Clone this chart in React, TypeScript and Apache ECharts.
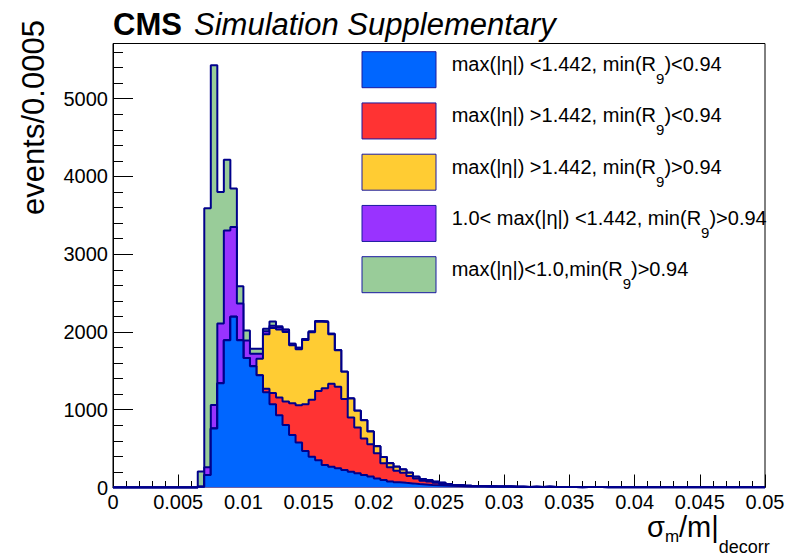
import React, { useEffect, useRef } from 'react';
import * as echarts from 'echarts';

// Histogram binning: 100 bins of width 0.0005 over [0, 0.05]
const N_BINS = 100;
const BIN_WIDTH = 0.0005;
const X_MAX = 0.05;
const Y_MAX = 5710;

const X_TICK_LABELS = ['0', '0.005', '0.01', '0.015', '0.02', '0.025', '0.03', '0.035', '0.04', '0.045', '0.05'];
const Y_TICK_LABELS = ['0', '1000', '2000', '3000', '4000', '5000'];

// Events per bin for each category; the first number is the index of the first filled bin.
const BARREL_LOW_R9_START = 13;
const barrelLowR9 = [
  10, 160, 760, 1340, 1895, 2195, 1895, 1665, 1560, 1445,
  1225, 1070, 930, 805, 675, 580, 470, 395, 350, 290,
  268, 246, 225, 203, 182, 160, 140, 117, 96, 78,
  68, 60, 53, 45, 40, 33, 30, 27, 21, 18,
  16, 14, 13, 12, 11, 10, 9, 10, 8, 8,
  7, 8, 6, 9, 6, 5, 5, 6, 4, 8,
  5, 6, 4, 5, 4, 3, 5, 4, 3, 4,
  3, 5, 3, 3, 2, 4, 3, 3, 2, 3,
  2, 2, 3, 2, 2, 2, 2,
];

const ENDCAP_LOW_R9_START = 23;
const endcapLowR9 = [
  45, 145, 228, 300, 408, 478, 602, 735, 890, 985,
  1065, 1050, 912, 697, 590, 470, 415, 322, 215, 182,
  148, 130, 95, 72, 48, 43, 32, 18, 12, 8,
  6, 5, 4, 3, 3, 2, 2, 2, 1, 1, 1, 1, 1,
];

const ENDCAP_HIGH_R9_START = 22;
const endcapHighR9 = [
  210, 700, 835, 875, 895, 745, 720, 825, 865, 890,
  852, 637, 470, 350, 245, 215, 235, 165, 93, 80,
  51, 51, 43, 42, 22, 22, 21, 13, 17, 13,
  6, 5, 4, 3, 2, 2, 1, 1, 1,
];

const MID_BARREL_HIGH_R9_START = 14;
const midBarrelHighR9 = [
  100, 300, 770, 1410, 1155, 470, 226, 160, 65, 40,
  30, 28, 30, 20, 20, 13, 12, 12, 8, 6, 3, 2, 1,
];

const CENTRAL_HIGH_R9_START = 13;
const centralHighR9 = [
  195, 3330, 4370, 1690, 910, 495, 224, 128, 64, 65, 30, 55, 12, 3,
];

const LEGEND_MAIN = [
  'max(|η|) <1.442, min(R',
  'max(|η|) >1.442, min(R',
  'max(|η|) >1.442, min(R',
  '1.0< max(|η|) <1.442, min(R',
  'max(|η|)<1.0,min(R',
];
const LEGEND_TAIL = [')<0.94', ')<0.94', ')>0.94', ')>0.94', ')>0.94'];
const LAYER_COLORS = ['#0066ff', '#ff3333', '#ffcc33', '#9933ff', '#99cc99'];

const FONT = '"Liberation Sans", Arial, Helvetica, sans-serif';
const OUTLINE = '#00008b';

const padBins = (first: number, counts: number[]) =>
  Array.from({ length: N_BINS }, (_, i) =>
    i >= first && i - first < counts.length ? counts[i - first] : 0
  );

function buildOption() {
  const layers = [
    padBins(BARREL_LOW_R9_START, barrelLowR9),
    padBins(ENDCAP_LOW_R9_START, endcapLowR9),
    padBins(ENDCAP_HIGH_R9_START, endcapHighR9),
    padBins(MID_BARREL_HIGH_R9_START, midBarrelHighR9),
    padBins(CENTRAL_HIGH_R9_START, centralHighR9),
  ];

  // cumulative stack, bottom layer first
  const cumulative: number[][] = [];
  layers.forEach((layer, k) => {
    cumulative.push(layer.map((v, i) => v + (k > 0 ? cumulative[k - 1][i] : 0)));
  });

  const stepPoints = (vals: number[]) => {
    const pts = vals.map((v, i) => [i * BIN_WIDTH, v]);
    pts.push([X_MAX, vals[vals.length - 1]]);
    return pts;
  };

  // draw the full stack first, then each lower cumulative on top of it
  const series = [] as any[];
  for (let k = layers.length - 1; k >= 0; k--) {
    series.push({
      type: 'line',
      name: LEGEND_MAIN[k],
      step: 'end',
      symbol: 'none',
      showSymbol: false,
      silent: true,
      z: 2 + (layers.length - k),
      data: stepPoints(cumulative[k]),
      lineStyle: { color: OUTLINE, width: 2 },
      areaStyle: { color: LAYER_COLORS[k], opacity: 1 },
    });
  }

  const legendTop = 51.7;
  const legendStep = 51.25;
  const legendGraphics: any[] = [];
  LEGEND_MAIN.forEach((label, i) => {
    const top = legendTop + i * legendStep;
    legendGraphics.push({
      type: 'rect',
      shape: { x: 362, y: top, width: 74, height: 36 },
      style: { fill: LAYER_COLORS[i], stroke: '#1a1aa0', lineWidth: 1 },
      z: 20,
    });
    legendGraphics.push({
      type: 'text',
      x: 451.7,
      y: top + 2.4,
      z: 20,
      style: {
        text: `{n|${label}}{s|9}{n|${LEGEND_TAIL[i]}}`,
        align: 'left',
        verticalAlign: 'top',
        rich: {
          n: { fontSize: 20, fontFamily: FONT, fill: '#000', lineHeight: 24, verticalAlign: 'top' },
          s: { fontSize: 15, fontFamily: FONT, fill: '#000', lineHeight: 15, verticalAlign: 'top', padding: [17, 0, 0, 0] },
        },
      },
    });
  });

  const titleGraphics = [
    { type: 'text', x: 113, y: 24.6, style: { text: 'CMS', fontSize: 31, fontWeight: 'bold', fontFamily: FONT, fill: '#000', align: 'left', verticalAlign: 'middle' } },
    { type: 'text', x: 194, y: 24.6, style: { text: 'Simulation Supplementary', fontSize: 31, fontStyle: 'italic', fontFamily: FONT, fill: '#000', align: 'left', verticalAlign: 'middle' } },
    { type: 'text', x: 33, y: 117.5, rotation: Math.PI / 2, style: { text: 'events/0.0005', fontSize: 31, fontFamily: FONT, fill: '#000', align: 'center', verticalAlign: 'middle' } },
    {
      type: 'text',
      x: 647,
      y: 512,
      style: {
        text: '{b|σ}{m|m}{b|/m|}{d|decorr}',
        align: 'left',
        verticalAlign: 'top',
        rich: {
          b: { fontSize: 29, fontFamily: FONT, fill: '#000', verticalAlign: 'top' },
          m: { fontSize: 17, fontFamily: FONT, fill: '#000', lineHeight: 17, verticalAlign: 'top', padding: [15.5, 0, 0, 0] },
          d: { fontSize: 18, fontFamily: FONT, fill: '#000', lineHeight: 18, verticalAlign: 'top', padding: [25.5, 0, 0, 0] },
        },
      },
    },
  ];

  const axisLine = { show: true, onZero: false, lineStyle: { color: '#000', width: 1 } };

  return {
    animation: false,
    backgroundColor: '#fff',
    grid: {
      left: 113,
      right: 21,
      top: 43.5,
      bottom: 69.5,
      show: true,
      borderColor: '#000',
      borderWidth: 1,
      backgroundColor: 'transparent',
      containLabel: false,
      outerBoundsMode: 'none',
    },
    xAxis: {
      type: 'value',
      min: 0,
      max: X_MAX,
      interval: 0.005,
      axisLine,
      axisTick: { show: true, inside: true, length: 13, lineStyle: { color: '#000', width: 1 } },
      minorTick: { show: true, splitNumber: 5, length: 6.5, lineStyle: { color: '#000', width: 1 } },
      axisLabel: {
        show: true,
        margin: 4,
        color: '#000',
        fontSize: 20,
        lineHeight: 20,
        fontFamily: FONT,
        showMinLabel: true,
        showMaxLabel: true,
        formatter: (v: number) => X_TICK_LABELS[Math.round(v / 0.005)] ?? '',
      },
      splitLine: { show: false },
      minorSplitLine: { show: false },
    },
    yAxis: [
      {
        type: 'value',
        min: 0,
        max: Y_MAX,
        interval: 1000,
        position: 'left',
        axisLine,
        axisTick: { show: true, inside: true, length: 20, lineStyle: { color: '#000', width: 1 } },
        axisLabel: {
          show: true,
          margin: 5,
          color: '#000',
          fontSize: 20,
          fontFamily: FONT,
          showMaxLabel: false,
          formatter: (v: number) => (v % 1000 === 0 ? Y_TICK_LABELS[v / 1000] ?? '' : ''),
        },
        splitLine: { show: false },
      },
      {
        type: 'value',
        min: 0,
        max: Y_MAX,
        interval: 200,
        position: 'left',
        axisLine: { show: false },
        axisTick: { show: true, inside: true, length: 10, lineStyle: { color: '#000', width: 1 } },
        axisLabel: { show: false },
        splitLine: { show: false },
      },
    ],
    series,
    graphic: [...titleGraphics, ...legendGraphics],
  };
}

export default function App() {
  const ref = useRef<HTMLDivElement>(null);
  useEffect(() => {
    if (!ref.current) return;
    const chart = echarts.init(ref.current, null, { renderer: 'svg' });
    chart.setOption(buildOption() as any);
    return () => chart.dispose();
  }, []);
  return (
    <div
      ref={ref}
      style={{ position: 'fixed', left: 0, top: 0, width: 786, height: 557, background: '#fff' }}
    />
  );
}
